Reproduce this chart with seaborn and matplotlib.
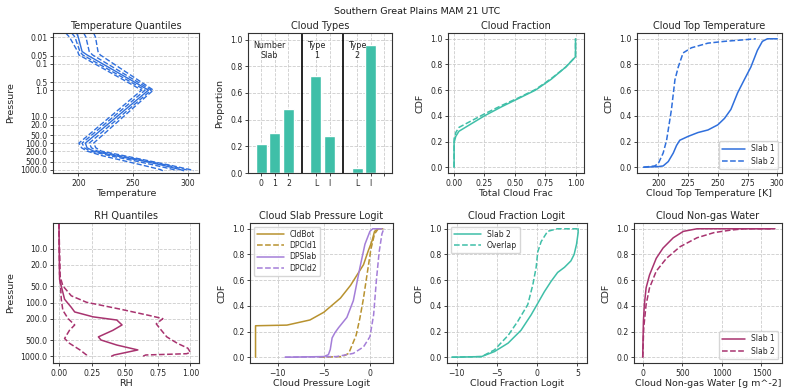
import numpy as np
import pandas as pd
import matplotlib
matplotlib.use("Agg")
import matplotlib.pyplot as plt
import seaborn as sns
from matplotlib.ticker import NullLocator

# ---------------- data ----------------
# Temperature quantiles (pressure in hPa, temperature in K)
t_pres = [0.007, 0.01, 0.035, 0.047, 1.0, 100, 150, 200, 300, 500, 700, 1000, 1100]
t_q05 = [188.6, 192.0, 199.5, 200.6, 257.8, 200.6, 203.0, 208.0, 222.0, 245.0, 260.0, 275.0, 277.0]
t_q25 = [194.0, 197.0, 201.5, 204.0, 261.0, 203.5, 205.5, 211.0, 229.0, 255.0, 271.0, 287.0, 290.0]
t_q50 = [198.5, 200.0, 203.5, 208.0, 264.0, 206.5, 208.0, 214.0, 234.0, 262.0, 278.0, 293.0, 296.0]
t_q75 = [205.0, 207.0, 210.0, 213.0, 266.5, 210.0, 212.0, 217.5, 238.0, 265.0, 282.0, 298.0, 301.0]
t_q95 = [214.0, 215.7, 218.0, 220.0, 268.4, 214.0, 216.0, 221.0, 242.0, 268.0, 285.0, 302.0, 305.0]
t_ticks = [0.01, 0.05, 0.1, 0.5, 1.0, 10.0, 20.0, 50.0, 100.0, 200.0, 500.0, 1000.0]
t_ticklabels = ["0.01", "0.05", "0.1", "0.5", "1.0", "10.0", "20.0", "50.0", "100.0", "200.0", "500.0", "1000.0"]

# Cloud types
bar_pos = [0, 1, 2, 4, 5, 7, 8]
bar_vals = [0.219, 0.303, 0.478, 0.725, 0.275, 0.035, 0.963]
bar_ticklabels = ["0", "1", "2", "L", "I", "L", "I", ""]
group_labels = ["Number\nSlab", "Type\n1", "Type\n2"]

# Cloud fraction CDF
cf_x = [0, 0, 0.014, 0.04, 0.11, 0.25, 0.39, 0.53, 0.67, 0.80, 0.92, 0.99, 1.0, 1.0]
cf_solid = [0, 0.19, 0.24, 0.28, 0.32, 0.40, 0.47, 0.535, 0.60, 0.685, 0.78, 0.85, 0.86, 1.0]
cf_dash = [0, 0.22, 0.27, 0.31, 0.345, 0.415, 0.48, 0.54, 0.605, 0.69, 0.78, 0.85, 0.86, 1.0]

# Cloud top temperature CDF
ctt_x1 = [187.5, 200, 204, 208.3, 212.5, 215.3, 218, 225, 233.3, 241.7, 250, 255.6, 261, 266.7, 272.2, 277.8, 283.3, 287.5, 291.7, 300]
ctt_y1 = [0, 0.005, 0.01, 0.044, 0.11, 0.17, 0.21, 0.24, 0.27, 0.29, 0.33, 0.38, 0.45, 0.58, 0.68, 0.78, 0.91, 0.98, 1.0, 1.0]
ctt_x2 = [187.5, 197, 200, 204, 206.9, 211, 213.9, 216.7, 220.8, 227.8, 241.7, 255.6, 269.4, 282]
ctt_y2 = [0, 0.01, 0.03, 0.11, 0.21, 0.45, 0.68, 0.78, 0.89, 0.93, 0.966, 0.98, 0.99, 1.0]

# RH quantiles
rh_p_med = [3.3, 37, 87, 123, 150, 185, 212, 262, 330, 437, 500, 620, 765, 950, 1000]
rh_med = [0.0, 0.005, 0.043, 0.094, 0.12, 0.26, 0.44, 0.48, 0.41, 0.30, 0.32, 0.44, 0.60, 0.42, 0.40]
rh_p_lo = [3.3, 40, 87, 140, 200, 262, 330, 468, 575, 765, 950, 1000]
rh_lo = [0.0, 0.01, 0.018, 0.03, 0.07, 0.12, 0.08, 0.043, 0.08, 0.16, 0.21, 0.20]
rh_p_hi = [3.3, 30, 49, 75, 99, 132, 175, 200, 250, 310, 437, 575, 710, 850, 900, 950, 1000]
rh_hi = [0.0, 0.005, 0.03, 0.094, 0.21, 0.46, 0.69, 0.79, 0.74, 0.77, 0.82, 0.90, 0.98, 1.0, 0.97, 0.66, 0.64]
rh_ticks = [10.0, 20.0, 50.0, 100.0, 200.0, 500.0, 1000.0]
rh_ticklabels = ["10.0", "20.0", "50.0", "100.0", "200.0", "500.0", "1000.0"]

# Cloud slab pressure logit CDFs
cldbot_x = [-12.4, -12.4, -9.0, -6.5, -5.0, -3.2, -2.1, -1.4, -0.7, -0.2, 0.2, 0.5, 0.9, 1.4]
cldbot_y = [0, 0.245, 0.25, 0.29, 0.35, 0.46, 0.56, 0.64, 0.72, 0.825, 0.9, 0.98, 1.0, 1.0]
dpcld1_x = [-5.5, -3.0, -2.3, -1.5, -1.1, -0.72, -0.3, 0.1, 0.5, 0.9, 1.2]
dpcld1_y = [0, 0.005, 0.03, 0.17, 0.30, 0.45, 0.65, 0.84, 0.96, 1.0, 1.0]
dpslab_x = [-9.2, -5.0, -4.5, -4.3, -4.1, -3.8, -3.4, -2.5, -1.8, -1.08, -0.54, 0.0, 0.3, 1.3]
dpslab_y = [0, 0.005, 0.02, 0.06, 0.15, 0.19, 0.23, 0.31, 0.44, 0.70, 0.88, 0.98, 1.0, 1.0]
dpcld2_x = [-9.2, -3.6, -1.8, -0.7, 0.0, 0.4, 0.7, 1.0, 1.3, 1.5, 1.6]
dpcld2_y = [0, 0.005, 0.03, 0.08, 0.16, 0.33, 0.60, 0.82, 0.96, 1.0, 1.0]

# Cloud fraction logit CDFs
s2_x = [-10.6, -6.9, -5.3, -3.6, -2.0, -0.74, 0.08, 0.9, 1.73, 2.55, 3.4, 4.2, 4.6, 4.9, 5.1, 5.1]
s2_y = [0, 0.005, 0.044, 0.11, 0.21, 0.33, 0.42, 0.51, 0.59, 0.66, 0.70, 0.75, 0.80, 0.88, 0.97, 1.0]
ov_x = [-10.6, -6.9, -5.3, -3.6, -2.4, -1.16, -0.53, -0.12, 0.08, 0.5, 1.3, 2.5, 5.0]
ov_y = [0, 0.005, 0.057, 0.17, 0.28, 0.41, 0.565, 0.70, 0.82, 0.90, 0.98, 1.0, 1.0]

# Cloud non-gas water CDFs
w1_x = [0, 9, 21, 43, 86, 171, 257, 386, 514, 686, 1671]
w1_y = [0, 0.28, 0.41, 0.54, 0.64, 0.77, 0.85, 0.93, 0.98, 1.0, 1.0]
w2_x = [0, 13, 43, 86, 171, 300, 471, 686, 900, 1114, 1286, 1650]
w2_y = [0, 0.23, 0.41, 0.54, 0.67, 0.77, 0.86, 0.93, 0.97, 0.99, 1.0, 1.0]

# ---------------- style ----------------
BLUE = "#2f6fdc"
TEAL = "#3fbfa8"
MAROON = "#a8336f"
GOLD = "#b8922f"
PURPLE = "#a47ed8"

sns.set_style("whitegrid", {"grid.linestyle": "--", "grid.color": ".8",
                            "axes.edgecolor": ".2", "xtick.bottom": True, "ytick.left": True})
plt.rcParams["font.family"] = ["DejaVu Sans"]
plt.rcParams.update({
    "xtick.labelsize": 5.6, "ytick.labelsize": 5.6,
    "xtick.major.size": 2.5, "ytick.major.size": 2.5,
    "xtick.major.width": 0.6, "ytick.major.width": 0.6,
    "xtick.major.pad": 1.5, "ytick.major.pad": 1.5,
    "axes.linewidth": 0.8, "grid.linewidth": 0.6,
    "axes.labelsize": 6.8, "axes.titlesize": 7.0, "axes.labelpad": 1.0,
    "legend.fontsize": 5.5,
    "xtick.color": ".15", "ytick.color": ".15",
})

W, H = 785, 389
fig = plt.figure(figsize=(W / 100, H / 100), dpi=100)


def rect(l, t, r, b):
    return [l / W, 1 - b / H, (r - l) / W, (b - t) / H]


def line(ax, x, y, color, ls="-", label=None, lw=1.1):
    df = pd.DataFrame({"x": x, "y": y})
    sns.lineplot(data=df, x="x", y="y", ax=ax, color=color, linestyle=ls,
                 sort=False, estimator=None, label=label, linewidth=lw)


ax1 = fig.add_axes(rect(53, 33, 199, 173))
ax2 = fig.add_axes(rect(248, 33, 392, 173))
ax3 = fig.add_axes(rect(448, 33, 584, 173))
ax4 = fig.add_axes(rect(637, 33, 782, 173))
ax5 = fig.add_axes(rect(53, 223, 199, 363))
ax6 = fig.add_axes(rect(250, 223, 393, 363))
ax7 = fig.add_axes(rect(447, 223, 587, 363))
ax8 = fig.add_axes(rect(634, 223, 782, 363))

YLP = 4

# ---- Panel 1: Temperature Quantiles
for q, ls in [(t_q05, "--"), (t_q25, "--"), (t_q75, "--"), (t_q95, "--"), (t_q50, "-")]:
    line(ax1, q, t_pres, BLUE, ls, lw=1.0)
ax1.set_yscale("log")
ax1.set_ylim(1340, 0.007)
ax1.set_yticks(t_ticks)
ax1.set_yticklabels(t_ticklabels)
ax1.yaxis.set_minor_locator(NullLocator())
ax1.set_xlim(177, 310)
ax1.set_xticks([200, 250, 300])
ax1.set_xlabel("Temperature")
ax1.set_ylabel("Pressure", labelpad=YLP)
ax1.set_title("Temperature Quantiles", pad=3)

# ---- Panel 2: Cloud Types
sns.barplot(x=bar_pos, y=bar_vals, native_scale=True, orient="x", color=TEAL,
            saturation=1, width=0.8, ax=ax2)
ax2.axvline(3, color="k", lw=1.2)
ax2.axvline(6, color="k", lw=1.2)
ax2.set_xlim(-0.95, 9.55)
ax2.set_ylim(0, 1.05)
ax2.set_xticks(bar_pos + [9])
ax2.set_xticklabels(bar_ticklabels)
ax2.set_yticks([0, 0.2, 0.4, 0.6, 0.8, 1.0])
ax2.grid(True)
for xp, txt in zip([-0.6, 3.35, 6.35], group_labels):
    ax2.text(xp, 0.99, txt, ha="left", va="top", multialignment="center", fontsize=5.8, color=".15")
ax2.set_ylabel("Proportion", labelpad=YLP)
ax2.set_xlabel("")
ax2.set_title("Cloud Types", pad=3)

# ---- Panel 3: Cloud Fraction
line(ax3, cf_x, cf_dash, TEAL, "--")
line(ax3, cf_x, cf_solid, TEAL, "-")
ax3.set_xlim(-0.05, 1.07)
ax3.set_ylim(-0.045, 1.045)
ax3.set_xticks([0, 0.25, 0.5, 0.75, 1.0])
ax3.set_xticklabels(["0.00", "0.25", "0.50", "0.75", "1.00"])
ax3.set_xlabel("Total Cloud Frac")
ax3.set_ylabel("CDF", labelpad=YLP)
ax3.set_title("Cloud Fraction", pad=3)

# ---- Panel 4: Cloud Top Temperature
line(ax4, ctt_x1, ctt_y1, BLUE, "-", "Slab 1")
line(ax4, ctt_x2, ctt_y2, BLUE, "--", "Slab 2")
ax4.set_xlim(182, 304)
ax4.set_ylim(-0.045, 1.045)
ax4.set_xticks([200, 225, 250, 275, 300])
ax4.legend(loc="lower right", handlelength=3)
ax4.set_xlabel("Cloud Top Temperature [K]")
ax4.set_ylabel("CDF", labelpad=YLP)
ax4.set_title("Cloud Top Temperature", pad=3)

# ---- Panel 5: RH Quantiles
line(ax5, rh_lo, rh_p_lo, MAROON, "--")
line(ax5, rh_hi, rh_p_hi, MAROON, "--")
line(ax5, rh_med, rh_p_med, MAROON, "-")
ax5.set_yscale("log")
ax5.set_ylim(1340, 3.3)
ax5.set_yticks(rh_ticks)
ax5.set_yticklabels(rh_ticklabels)
ax5.yaxis.set_minor_locator(NullLocator())
ax5.set_xlim(-0.045, 1.065)
ax5.set_xticks([0, 0.25, 0.5, 0.75, 1.0])
ax5.set_xticklabels(["0.00", "0.25", "0.50", "0.75", "1.00"])
ax5.set_xlabel("RH")
ax5.set_ylabel("Pressure", labelpad=YLP)
ax5.set_title("RH Quantiles", pad=3)

# ---- Panel 6: Cloud Slab Pressure Logit
line(ax6, cldbot_x, cldbot_y, GOLD, "-", "CldBot")
line(ax6, dpcld1_x, dpcld1_y, GOLD, "--", "DPCld1")
line(ax6, dpslab_x, dpslab_y, PURPLE, "-", "DPSlab")
line(ax6, dpcld2_x, dpcld2_y, PURPLE, "--", "DPCld2")
ax6.set_xlim(-13.0, 2.5)
ax6.set_ylim(-0.045, 1.045)
ax6.set_xticks([-10, -5, 0])
ax6.legend(loc="upper left", handlelength=3.5, labelspacing=0.3)
ax6.set_xlabel("Cloud Pressure Logit")
ax6.set_ylabel("CDF", labelpad=YLP)
ax6.set_title("Cloud Slab Pressure Logit", pad=3)

# ---- Panel 7: Cloud Fraction Logit
line(ax7, s2_x, s2_y, TEAL, "-", "Slab 2")
line(ax7, ov_x, ov_y, TEAL, "--", "Overlap")
ax7.set_xlim(-11.2, 6.2)
ax7.set_ylim(-0.045, 1.045)
ax7.set_xticks([-10, -5, 0, 5])
ax7.legend(loc="upper left", handlelength=3.5, labelspacing=0.3)
ax7.set_xlabel("Cloud Fraction Logit")
ax7.set_ylabel("CDF", labelpad=YLP)
ax7.set_title("Cloud Fraction Logit", pad=3)

# ---- Panel 8: Cloud Non-gas Water
line(ax8, w1_x, w1_y, MAROON, "-", "Slab 1")
line(ax8, w2_x, w2_y, MAROON, "--", "Slab 2")
ax8.set_xlim(-110, 1760)
ax8.set_ylim(-0.045, 1.045)
ax8.set_xticks([0, 500, 1000, 1500])
ax8.legend(loc="lower right", handlelength=3)
ax8.set_xlabel("Cloud Non-gas Water [g m^-2]")
ax8.set_ylabel("CDF", labelpad=YLP)
ax8.set_title("Cloud Non-gas Water", pad=3)

for ax in [ax3, ax4, ax6, ax7, ax8]:
    ax.set_yticks([0, 0.2, 0.4, 0.6, 0.8, 1.0])

fig.text(417 / W, 1 - 12 / H, "Southern Great Plains MAM 21 UTC", ha="center", va="center",
         fontsize=6.8, color=".1")

fig.savefig("out.png", dpi=100)
